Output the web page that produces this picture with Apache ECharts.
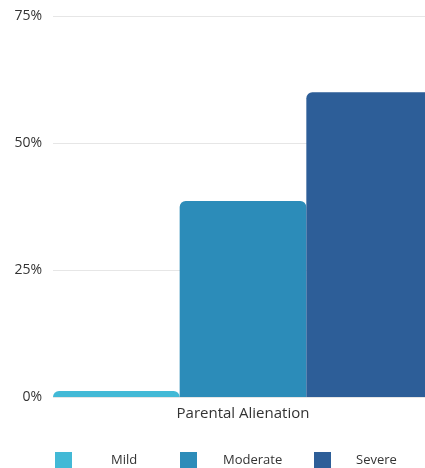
<!DOCTYPE html>
<html>
<head>
<meta charset="utf-8">
<style>
  html, body { margin: 0; padding: 0; background: #ffffff; overflow: hidden; width: 425px; height: 468px; }
  /* drawing surface is a bit wider than the page; the last bar runs off the right edge */
  #chart { width: 440px; height: 468px; }
</style>
<script src="https://cdn.jsdelivr.net/npm/echarts@6/dist/echarts.min.js"></script>
</head>
<body>
<div id="chart"></div>
<script>
// Share of cases by severity level (percent)
const categories = ['Parental Alienation'];
const seriesNames = ['Mild', 'Moderate', 'Severe'];
const mildValues = [1.2];
const moderateValues = [38.6];
const severeValues = [60];
const yTicks = [0, 25, 50, 75];

const colors = ['#42B9D6', '#2C8CB9', '#2D5E98'];
const fontFamily = '"Open Sans", Lato, sans-serif';

const chart = echarts.init(document.getElementById('chart'), null, { renderer: 'canvas' });

const valueSets = [mildValues, moderateValues, severeValues];
const series = seriesNames.map((name, i) => ({
  name: name,
  type: 'bar',
  data: valueSets[i],
  barGap: '0%',
  barCategoryGap: '0%',
  itemStyle: { color: colors[i], borderRadius: [6, 6, 0, 0] }
}));

// One legend per entry so each swatch/label pair can sit at its own spot
const legendLefts = [55, 180, 314];
const legendTextPads = [34, 21, 20];
const legends = seriesNames.map((name, i) => ({
  data: [name],
  left: legendLefts[i],
  top: 452,
  padding: 0,
  itemWidth: 17,
  itemHeight: 17,
  icon: 'rect',
  textStyle: {
    color: '#333333',
    fontSize: 13,
    fontFamily: fontFamily,
    padding: [0, 0, 0, legendTextPads[i]]
  }
}));

chart.setOption({
  animation: false,
  color: colors,
  grid: { left: 53, right: 7, top: 16, bottom: 71, containLabel: false },
  legend: legends,
  xAxis: {
    type: 'category',
    data: categories,
    axisLine: { show: false },
    axisTick: { show: false },
    axisLabel: {
      color: '#333333',
      fontSize: 15,
      fontFamily: fontFamily,
      margin: 9
    }
  },
  yAxis: {
    type: 'value',
    min: yTicks[0],
    max: yTicks[yTicks.length - 1],
    interval: yTicks[1] - yTicks[0],
    axisLine: { show: false },
    axisTick: { show: false },
    splitLine: { lineStyle: { color: '#e6e6e6', width: 1 } },
    axisLabel: {
      color: '#333333',
      fontSize: 14,
      fontFamily: fontFamily,
      margin: 11,
      formatter: v => v + '%'
    }
  },
  series: series
});
</script>
</body>
</html>
